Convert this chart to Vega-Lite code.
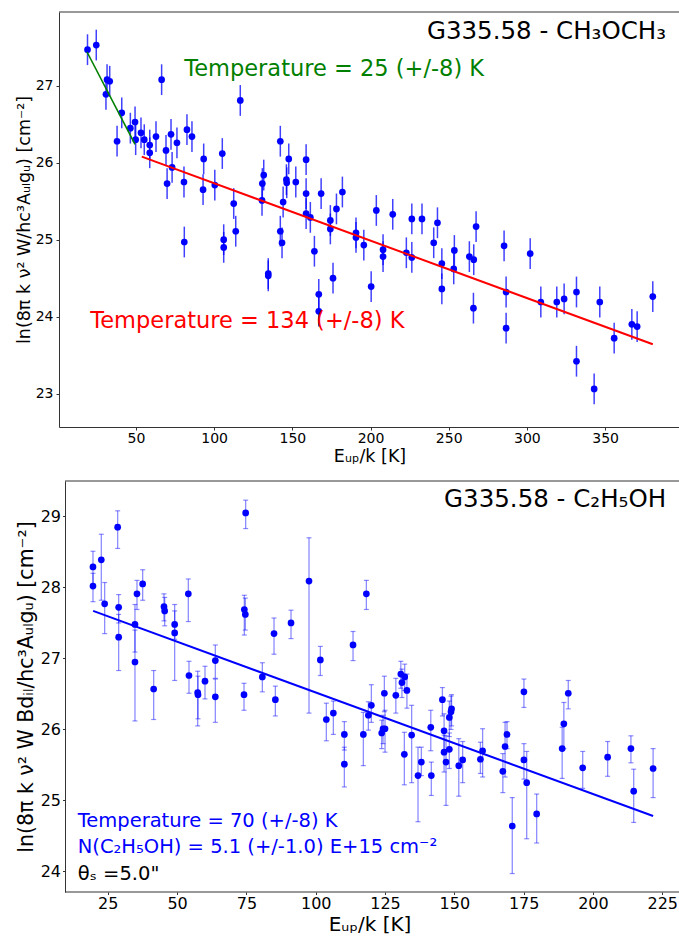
{
  "$schema": "https://vega.github.io/schema/vega-lite/v6.json",
  "background": "white",
  "padding": {"left": 15, "top": 11, "right": 0, "bottom": 0},
  "spacing": 14,
  "align": "none",
  "config": {
    "font": "DejaVu Sans",
    "view": {"stroke": null},
    "axis": {"grid": false, "format": "d", "domainColor": "#333", "tickColor": "#333", "labelColor": "#000", "titleColor": "#000", "titleFontWeight": "normal", "labelFont": "DejaVu Sans", "titleFont": "DejaVu Sans", "labelFlush": false, "labelOverlap": false, "domainWidth": 1}
  },
  "datasets": {
    "top": [
      {"E": 19.0, "v": 27.47, "err": 0.2}, {"E": 24.6, "v": 27.53, "err": 0.2}, {"E": 31.5, "v": 27.08, "err": 0.2}, {"E": 33.2, "v": 27.06, "err": 0.2},
      {"E": 30.8, "v": 26.89, "err": 0.2}, {"E": 37.9, "v": 26.28, "err": 0.2}, {"E": 40.9, "v": 26.65, "err": 0.2}, {"E": 46.4, "v": 26.45, "err": 0.2},
      {"E": 49.4, "v": 26.53, "err": 0.2}, {"E": 49.8, "v": 26.30, "err": 0.2}, {"E": 53.2, "v": 26.39, "err": 0.2}, {"E": 55.3, "v": 26.30, "err": 0.2},
      {"E": 58.8, "v": 26.23, "err": 0.2}, {"E": 58.8, "v": 26.13, "err": 0.2}, {"E": 62.8, "v": 26.34, "err": 0.2}, {"E": 66.4, "v": 27.08, "err": 0.2},
      {"E": 69.2, "v": 26.16, "err": 0.2}, {"E": 69.9, "v": 25.73, "err": 0.2}, {"E": 72.4, "v": 26.37, "err": 0.2}, {"E": 73.1, "v": 25.94, "err": 0.2},
      {"E": 76.2, "v": 26.26, "err": 0.2}, {"E": 80.7, "v": 25.75, "err": 0.2}, {"E": 82.6, "v": 26.43, "err": 0.2}, {"E": 85.8, "v": 26.34, "err": 0.2},
      {"E": 93.3, "v": 26.05, "err": 0.2}, {"E": 92.9, "v": 25.65, "err": 0.2}, {"E": 100.4, "v": 25.71, "err": 0.2}, {"E": 105.2, "v": 26.12, "err": 0.2},
      {"E": 112.5, "v": 25.47, "err": 0.2}, {"E": 116.7, "v": 26.81, "err": 0.2}, {"E": 130.8, "v": 25.73, "err": 0.2}, {"E": 131.7, "v": 25.84, "err": 0.2},
      {"E": 130.6, "v": 25.51, "err": 0.2}, {"E": 142.3, "v": 26.28, "err": 0.2}, {"E": 144.1, "v": 25.49, "err": 0.2}, {"E": 146.2, "v": 25.78, "err": 0.2},
      {"E": 146.4, "v": 25.74, "err": 0.2}, {"E": 147.7, "v": 26.05, "err": 0.2}, {"E": 152.2, "v": 25.75, "err": 0.2}, {"E": 158.8, "v": 26.04, "err": 0.2},
      {"E": 158.8, "v": 25.60, "err": 0.2}, {"E": 158.8, "v": 25.34, "err": 0.2}, {"E": 161.5, "v": 25.29, "err": 0.2}, {"E": 168.4, "v": 25.60, "err": 0.2},
      {"E": 174.3, "v": 25.25, "err": 0.2}, {"E": 178.2, "v": 25.40, "err": 0.2}, {"E": 182.0, "v": 25.62, "err": 0.2}, {"E": 203.7, "v": 25.38, "err": 0.2},
      {"E": 174.3, "v": 25.14, "err": 0.2}, {"E": 190.7, "v": 25.09, "err": 0.2}, {"E": 142.3, "v": 25.11, "err": 0.2}, {"E": 113.8, "v": 25.11, "err": 0.2},
      {"E": 80.9, "v": 24.97, "err": 0.2}, {"E": 106.1, "v": 25.00, "err": 0.2}, {"E": 106.1, "v": 24.90, "err": 0.2}, {"E": 134.6, "v": 24.56, "err": 0.2},
      {"E": 134.6, "v": 24.53, "err": 0.2}, {"E": 143.4, "v": 24.96, "err": 0.2}, {"E": 164.1, "v": 24.85, "err": 0.2}, {"E": 166.9, "v": 24.29, "err": 0.2},
      {"E": 166.9, "v": 24.07, "err": 0.2}, {"E": 176.0, "v": 24.50, "err": 0.2}, {"E": 190.7, "v": 25.03, "err": 0.2}, {"E": 195.7, "v": 24.93, "err": 0.2},
      {"E": 200.4, "v": 24.39, "err": 0.2}, {"E": 208.0, "v": 24.87, "err": 0.2}, {"E": 208.0, "v": 24.78, "err": 0.2}, {"E": 222.9, "v": 24.83, "err": 0.2},
      {"E": 226.4, "v": 24.77, "err": 0.2}, {"E": 240.4, "v": 24.96, "err": 0.2}, {"E": 245.6, "v": 24.69, "err": 0.2}, {"E": 245.6, "v": 24.36, "err": 0.2},
      {"E": 253.6, "v": 24.86, "err": 0.2}, {"E": 253.2, "v": 24.62, "err": 0.2}, {"E": 263.2, "v": 24.78, "err": 0.2}, {"E": 266.0, "v": 24.74, "err": 0.2},
      {"E": 265.8, "v": 24.11, "err": 0.2}, {"E": 267.5, "v": 25.17, "err": 0.2}, {"E": 285.4, "v": 24.92, "err": 0.2}, {"E": 286.7, "v": 24.32, "err": 0.2},
      {"E": 286.7, "v": 23.85, "err": 0.2}, {"E": 302.1, "v": 24.82, "err": 0.2}, {"E": 308.9, "v": 24.19, "err": 0.2}, {"E": 319.1, "v": 24.19, "err": 0.2},
      {"E": 323.8, "v": 24.23, "err": 0.2}, {"E": 331.7, "v": 24.32, "err": 0.2}, {"E": 331.7, "v": 23.42, "err": 0.2}, {"E": 343.0, "v": 23.06, "err": 0.2},
      {"E": 346.6, "v": 24.19, "err": 0.2}, {"E": 355.8, "v": 23.72, "err": 0.2}, {"E": 367.1, "v": 23.90, "err": 0.2}, {"E": 370.5, "v": 23.87, "err": 0.2},
      {"E": 380.5, "v": 24.26, "err": 0.2}, {"E": 214.2, "v": 25.33, "err": 0.2}, {"E": 226.4, "v": 25.27, "err": 0.2}, {"E": 232.9, "v": 25.27, "err": 0.2},
      {"E": 242.8, "v": 25.22, "err": 0.2}
    ],
    "topGreen": [{"E": 18.7, "v": 27.44}, {"E": 49.4, "v": 26.24}],
    "topRed": [{"E": 53.7, "v": 26.08}, {"E": 380.5, "v": 23.64}],
    "bottom": [
      {"E": 19.66, "v": 28.29, "lo": 28.01, "hi": 28.51}, {"E": 19.66, "v": 28.02, "lo": 27.80, "hi": 28.20}, {"E": 22.66, "v": 28.39, "lo": 27.82, "hi": 28.75},
      {"E": 23.87, "v": 27.77, "lo": 27.35, "hi": 28.07}, {"E": 28.56, "v": 28.85, "lo": 28.55, "hi": 29.08}, {"E": 28.92, "v": 27.72, "lo": 27.50, "hi": 27.90},
      {"E": 28.92, "v": 27.30, "lo": 26.83, "hi": 27.62}, {"E": 34.8, "v": 27.48, "lo": 27.09, "hi": 27.76}, {"E": 34.8, "v": 26.95, "lo": 26.12, "hi": 27.40},
      {"E": 35.53, "v": 27.91, "lo": 27.69, "hi": 28.10}, {"E": 37.58, "v": 28.05, "lo": 27.82, "hi": 28.25}, {"E": 41.55, "v": 26.57, "lo": 26.14, "hi": 26.83},
      {"E": 45.27, "v": 27.73, "lo": 27.53, "hi": 27.91}, {"E": 45.52, "v": 27.67, "lo": 27.46, "hi": 27.86}, {"E": 49.12, "v": 27.48, "lo": 27.27, "hi": 27.67},
      {"E": 49.12, "v": 27.36, "lo": 26.69, "hi": 27.76}, {"E": 54.05, "v": 27.91, "lo": 27.52, "hi": 28.12}, {"E": 54.29, "v": 26.76, "lo": 26.51, "hi": 26.96},
      {"E": 57.42, "v": 26.52, "lo": 26.05, "hi": 26.82}, {"E": 57.54, "v": 26.49, "lo": 26.15, "hi": 26.75}, {"E": 60.06, "v": 26.68, "lo": 26.43, "hi": 26.89},
      {"E": 63.79, "v": 26.97, "lo": 26.72, "hi": 27.19}, {"E": 63.79, "v": 26.46, "lo": 26.10, "hi": 26.71}, {"E": 74.13, "v": 26.49, "lo": 26.27, "hi": 26.65},
      {"E": 74.25, "v": 27.69, "lo": 27.33, "hi": 27.89}, {"E": 74.61, "v": 27.62, "lo": 27.40, "hi": 27.85}, {"E": 74.73, "v": 29.05, "lo": 28.83, "hi": 29.23},
      {"E": 80.75, "v": 26.74, "lo": 26.53, "hi": 26.94}, {"E": 84.96, "v": 27.35, "lo": 27.06, "hi": 27.57}, {"E": 85.44, "v": 26.42, "lo": 26.19, "hi": 26.61},
      {"E": 91.09, "v": 27.50, "lo": 27.28, "hi": 27.68}, {"E": 97.58, "v": 28.09, "lo": 26.23, "hi": 28.70}, {"E": 101.67, "v": 26.98, "lo": 26.76, "hi": 27.17},
      {"E": 113.46, "v": 27.19, "lo": 26.97, "hi": 27.38}, {"E": 118.27, "v": 27.91, "lo": 27.69, "hi": 28.10}, {"E": 103.83, "v": 26.14, "lo": 25.84, "hi": 26.37},
      {"E": 106.36, "v": 26.23, "lo": 25.93, "hi": 26.40}, {"E": 110.33, "v": 25.93, "lo": 25.71, "hi": 26.11}, {"E": 110.33, "v": 25.51, "lo": 25.19, "hi": 25.75},
      {"E": 117.18, "v": 25.93, "lo": 25.49, "hi": 26.24}, {"E": 118.99, "v": 26.20, "lo": 25.99, "hi": 26.39}, {"E": 120.07, "v": 26.34, "lo": 26.10, "hi": 26.63},
      {"E": 123.8, "v": 25.95, "lo": 25.73, "hi": 26.13}, {"E": 124.28, "v": 26.01, "lo": 25.80, "hi": 26.20}, {"E": 125.0, "v": 26.01, "lo": 25.68, "hi": 26.27},
      {"E": 124.76, "v": 26.51, "lo": 26.25, "hi": 26.75}, {"E": 128.9, "v": 26.48, "lo": 26.23, "hi": 26.72}, {"E": 130.7, "v": 26.78, "lo": 26.58, "hi": 26.96},
      {"E": 132.1, "v": 26.74, "lo": 26.55, "hi": 26.92}, {"E": 131.1, "v": 26.66, "lo": 26.45, "hi": 26.85}, {"E": 132.9, "v": 26.55, "lo": 26.30, "hi": 26.78},
      {"E": 131.97, "v": 25.65, "lo": 25.22, "hi": 25.96}, {"E": 134.6, "v": 25.92, "lo": 25.25, "hi": 26.34}, {"E": 136.9, "v": 25.35, "lo": 24.70, "hi": 25.75},
      {"E": 138.1, "v": 25.54, "lo": 25.35, "hi": 25.75}, {"E": 141.5, "v": 26.03, "lo": 25.70, "hi": 26.27}, {"E": 141.7, "v": 25.35, "lo": 25.07, "hi": 25.54},
      {"E": 145.7, "v": 26.42, "lo": 26.19, "hi": 26.59}, {"E": 146.3, "v": 25.98, "lo": 25.70, "hi": 26.22}, {"E": 146.3, "v": 25.68, "lo": 25.40, "hi": 25.92},
      {"E": 147.0, "v": 25.54, "lo": 24.93, "hi": 25.91}, {"E": 148.2, "v": 25.72, "lo": 25.45, "hi": 25.95}, {"E": 148.2, "v": 26.17, "lo": 25.90, "hi": 26.40},
      {"E": 148.8, "v": 26.25, "lo": 26.00, "hi": 26.47}, {"E": 149.0, "v": 26.29, "lo": 26.05, "hi": 26.49}, {"E": 151.6, "v": 25.49, "lo": 25.06, "hi": 25.87},
      {"E": 153.0, "v": 25.57, "lo": 25.25, "hi": 25.83}, {"E": 159.4, "v": 25.58, "lo": 25.38, "hi": 25.82}, {"E": 160.2, "v": 25.70, "lo": 25.33, "hi": 26.01},
      {"E": 167.5, "v": 25.41, "lo": 25.11, "hi": 25.66}, {"E": 168.3, "v": 25.76, "lo": 25.33, "hi": 26.10}, {"E": 169.0, "v": 25.93, "lo": 25.73, "hi": 26.11},
      {"E": 170.9, "v": 24.64, "lo": 23.97, "hi": 25.04}, {"E": 175.1, "v": 25.57, "lo": 25.30, "hi": 25.80}, {"E": 175.1, "v": 26.53, "lo": 26.31, "hi": 26.71},
      {"E": 176.1, "v": 25.25, "lo": 24.46, "hi": 25.69}, {"E": 179.7, "v": 24.81, "lo": 24.40, "hi": 25.09}, {"E": 188.9, "v": 25.73, "lo": 25.31, "hi": 26.03},
      {"E": 189.5, "v": 26.08, "lo": 25.73, "hi": 26.38}, {"E": 191.1, "v": 26.51, "lo": 26.29, "hi": 26.69}, {"E": 196.3, "v": 25.46, "lo": 25.17, "hi": 25.69},
      {"E": 205.3, "v": 25.61, "lo": 25.34, "hi": 25.83}, {"E": 213.7, "v": 25.73, "lo": 25.53, "hi": 25.91}, {"E": 214.7, "v": 25.13, "lo": 24.69, "hi": 25.44},
      {"E": 221.7, "v": 25.45, "lo": 25.04, "hi": 25.73}
    ],
    "botFit": [{"E": 19.7, "v": 27.67}, {"E": 221.7, "v": 24.78}]
  },
  "vconcat": [
    {
      "width": 621,
      "height": 415,
      "layer": [
        {
          "data": {"name": "top"},
          "mark": {"type": "errorbar", "color": "#0000ff", "opacity": 0.75, "thickness": 1.5},
          "encoding": {
            "x": {"field": "E", "type": "quantitative", "scale": {"domain": [0.77, 397.9], "nice": false, "zero": false},
                  "axis": {"title": "Eᵤₚ/k [K]", "values": [50, 100, 150, 200, 250, 300, 350], "labelFontSize": 14, "titleFontSize": 17.5, "tickSize": 3, "labelPadding": 1, "titlePadding": 2.8}},
            "y": {"field": "v", "type": "quantitative", "scale": {"domain": [22.565, 27.96], "nice": false, "zero": false},
                  "axis": {"title": "ln(8π k ν² W/hc³Aᵤₗgᵤ) [cm⁻²]", "values": [23, 24, 25, 26, 27], "labelFontSize": 14, "titleFontSize": 17.5, "tickSize": 3, "labelPadding": 3, "titlePadding": 2}},
            "yError": {"field": "err"}
          }
        },
        {
          "data": {"name": "top"},
          "mark": {"type": "point", "filled": true, "size": 45, "color": "#0000ff", "opacity": 1},
          "encoding": {"x": {"field": "E", "type": "quantitative"}, "y": {"field": "v", "type": "quantitative"}}
        },
        {
          "data": {"name": "topGreen"},
          "mark": {"type": "line", "color": "#008000", "strokeWidth": 1.6},
          "encoding": {"x": {"field": "E", "type": "quantitative"}, "y": {"field": "v", "type": "quantitative"}}
        },
        {
          "data": {"name": "topRed"},
          "mark": {"type": "line", "color": "#ff0000", "strokeWidth": 2},
          "encoding": {"x": {"field": "E", "type": "quantitative"}, "y": {"field": "v", "type": "quantitative"}}
        },
        {
          "data": {"values": [{}]},
          "mark": {"type": "rule", "color": "#333", "strokeWidth": 1},
          "encoding": {"y": {"datum": 27.96}}
        },
        {
          "data": {"values": [{}]},
          "mark": {"type": "text", "text": "G335.58 - CH₃OCH₃", "align": "right", "baseline": "middle", "fontSize": 24.5, "color": "#000"},
          "encoding": {"x": {"datum": 389}, "y": {"datum": 27.70}}
        },
        {
          "data": {"values": [{}]},
          "mark": {"type": "text", "text": "Temperature = 25 (+/-8) K", "align": "left", "baseline": "middle", "fontSize": 22.5, "color": "#008000"},
          "encoding": {"x": {"datum": 80.9}, "y": {"datum": 27.22}}
        },
        {
          "data": {"values": [{}]},
          "mark": {"type": "text", "text": "Temperature = 134 (+/-8) K", "align": "left", "baseline": "middle", "fontSize": 22.5, "color": "#ff0000"},
          "encoding": {"x": {"datum": 20.8}, "y": {"datum": 23.94}}
        }
      ]
    },
    {
      "width": 621,
      "height": 411,
      "layer": [
        {
          "data": {"name": "bottom"},
          "mark": {"type": "rule", "color": "#0000ff", "opacity": 0.45, "strokeWidth": 1.3},
          "encoding": {
            "x": {"field": "E", "type": "quantitative", "scale": {"domain": [7.40, 231.4], "nice": false, "zero": false},
                  "axis": {"title": "Eᵤₚ/k [K]", "domain": false, "values": [25, 50, 75, 100, 125, 150, 175, 200, 225], "labelFontSize": 16, "titleFontSize": 20, "tickSize": 2.5, "labelPadding": 0.5, "titlePadding": 3.5}},
            "y": {"field": "lo", "type": "quantitative", "scale": {"domain": [23.71, 29.5], "nice": false, "zero": false},
                  "axis": {"title": "ln(8π k ν² W Bdᵢₗ/hc³Aᵤₗgᵤ) [cm⁻²]", "offset": -6, "values": [24, 25, 26, 27, 28, 29], "labelFontSize": 16, "titleFontSize": 20.5, "tickSize": 2.5, "labelPadding": 2, "titlePadding": 4}},
            "y2": {"field": "hi"}
          }
        },
        {
          "data": {"name": "bottom"},
          "mark": {"type": "tick", "orient": "horizontal", "size": 5, "thickness": 1.2, "color": "#0000ff", "opacity": 0.45},
          "encoding": {"x": {"field": "E", "type": "quantitative"}, "y": {"field": "lo", "type": "quantitative"}}
        },
        {
          "data": {"name": "bottom"},
          "mark": {"type": "tick", "orient": "horizontal", "size": 5, "thickness": 1.2, "color": "#0000ff", "opacity": 0.45},
          "encoding": {"x": {"field": "E", "type": "quantitative"}, "y": {"field": "hi", "type": "quantitative"}}
        },
        {
          "data": {"name": "bottom"},
          "mark": {"type": "point", "filled": true, "size": 45, "color": "#0000ff", "opacity": 1},
          "encoding": {"x": {"field": "E", "type": "quantitative"}, "y": {"field": "v", "type": "quantitative"}}
        },
        {
          "data": {"name": "botFit"},
          "mark": {"type": "line", "color": "#0000ff", "strokeWidth": 2},
          "encoding": {"x": {"field": "E", "type": "quantitative"}, "y": {"field": "v", "type": "quantitative"}}
        },
        {
          "data": {"values": [{}]},
          "mark": {"type": "rule", "color": "#333", "strokeWidth": 1},
          "encoding": {"x": {"datum": 9.56}, "x2": {"datum": 231.4}, "y": {"datum": 29.5}}
        },
        {
          "data": {"values": [{}]},
          "mark": {"type": "rule", "color": "#333", "strokeWidth": 1},
          "encoding": {"x": {"datum": 9.56}, "x2": {"datum": 231.4}, "y": {"datum": 23.71}}
        },
        {
          "data": {"values": [{}]},
          "mark": {"type": "text", "text": "G335.58 - C₂H₅OH", "align": "right", "baseline": "middle", "fontSize": 24.5, "color": "#000"},
          "encoding": {"x": {"datum": 226.4}, "y": {"datum": 29.23}}
        },
        {
          "data": {"values": [{}]},
          "mark": {"type": "text", "text": "Temperature = 70 (+/-8) K", "align": "left", "baseline": "middle", "fontSize": 19.5, "color": "#0000ff"},
          "encoding": {"x": {"datum": 14.14}, "y": {"datum": 24.705}}
        },
        {
          "data": {"values": [{}]},
          "mark": {"type": "text", "text": "N(C₂H₅OH) = 5.1 (+/-1.0) E+15 cm⁻²", "align": "left", "baseline": "middle", "fontSize": 19.5, "color": "#0000ff"},
          "encoding": {"x": {"datum": 14.14}, "y": {"datum": 24.34}}
        },
        {
          "data": {"values": [{}]},
          "mark": {"type": "text", "text": "θₛ =5.0\"", "align": "left", "baseline": "middle", "fontSize": 19.5, "color": "#000"},
          "encoding": {"x": {"datum": 14.14}, "y": {"datum": 23.96}}
        }
      ]
    }
  ]
}
